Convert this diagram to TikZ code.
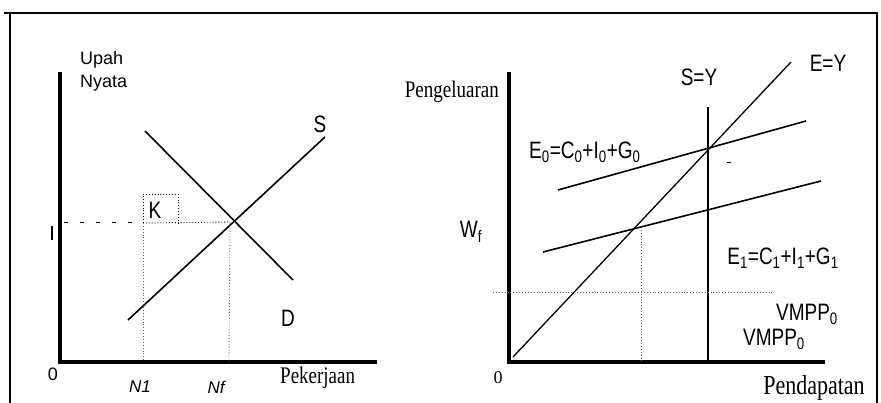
\documentclass[tikz,border=0pt]{standalone}
\usepackage{fontspec}
\setmainfont{Liberation Serif}
\setsansfont{Liberation Sans}
\usepackage{graphicx}
\usepackage{tikz}
\usetikzlibrary{positioning,calc}

\newcommand{\tall}[1]{\scalebox{1}[1.25]{#1}}

\begin{document}
\begin{tikzpicture}[x=1pt,y=-1pt,
  axis/.style={line width=3.5pt},
  curve/.style={line width=1.6pt},
  guide/.style={dotted,line width=0.9pt,black!60},
  lbl/.style={font=\fontsize{19}{19}\sffamily,inner sep=0pt},
  ttl/.style={font=\fontsize{19}{19}\rmfamily,inner sep=0pt}
]
\useasboundingbox (0,0) rectangle (881,403);
% ---- cadre ----
\draw[line width=1.4pt] (10,403) -- (10,13) -- (877,13) -- (877,403);
\draw[line width=1.4pt] (4,13) -- (10,13);

% ---- pasar tenaga kerja ----
\coordinate (O1) at (60,362);
\coordinate (E1pt) at (230,222);
\draw[axis] (60,72) -- (O1) -- (377,362);
\draw[line width=2pt] (52,226) -- (52,240);
\draw[curve] (128,320) -- (325,137);
\draw[curve] (145,131) -- (293,280);
\draw[dashed,dash pattern=on 4pt off 12pt,line width=1pt] (64,223) -- (143,223);
\draw[guide,black] (143,223) -- (E1pt);
\draw[guide] (143,223) -- (143,362);
\draw[guide] (E1pt) -- (229,362);
\draw[guide,black] (143,223) -- (143,194) -- (178,194) -- (178,223);
\node[lbl,font=\fontsize{18}{18}\sffamily,anchor=west] (upah) at (80,60) {Upah};
\node[lbl,font=\fontsize{18}{18}\sffamily,anchor=west] (nyata) at (80,83) {Nyata};
\node[lbl] (sup) at (320,124) {\tall{S}};
\node[lbl] (dem) at (288,318) {\tall{D}};
\node[lbl] (kk) at (155,210) {\tall{K}};
\node[lbl,font=\fontsize{18}{18}\sffamily] (nol1) at (53,374) {0};
\node[lbl,font=\fontsize{17}{17}\sffamily\itshape] (n1) at (140,387) {N1};
\node[lbl,font=\fontsize{17}{17}\sffamily\itshape] (nf) at (216,387) {Nf};
\node[ttl,anchor=west] (kerja) at (280,378) {\tall{Pekerjaan}};

% ---- pendapatan nasional ----
\coordinate (O2) at (509,362);
\draw[axis] (509,72) -- (O2) -- (825,362);
\draw[line width=1.3pt] (513,357) -- (791,62);
\draw[line width=1.4pt] (708,107) -- (708,362);
\draw[curve] (558,190) -- (806,121);
\draw[curve] (543,252) -- (821,181);
\draw[guide] (493,292) -- (773,292);
\draw[guide] (641,230) -- (641,362);
\draw[line width=1pt] (727,163) -- (731,163);
\node[ttl,anchor=east] (keluar) at (499,92) {\tall{Pengeluaran}};
\node[lbl] (sy) at (699,77) {\tall{S=Y}};
\node[lbl] (ey) at (828,63) {\tall{E=Y}};
\node[lbl,anchor=west] (e0) at (529,152) {\tall{E\textsubscript{0}=C\textsubscript{0}+I\textsubscript{0}+G\textsubscript{0}}};
\node[lbl] (e1) at (783,258) {\tall{E\textsubscript{1}=C\textsubscript{1}+I\textsubscript{1}+G\textsubscript{1}}};
\node[lbl] (wf) at (471,232) {\tall{W\textsubscript{f}}};
\node[lbl] (vm1) at (807,314) {\tall{VMPP\textsubscript{0}}};
\node[lbl] (vm2) at (774,339) {\tall{VMPP\textsubscript{0}}};
\node[ttl,font=\fontsize{18}{18}\rmfamily] (nol2) at (498,378) {0};
\node[ttl,font=\fontsize{22}{22}\rmfamily] (dapat) at (814,388) {\tall{Pendapatan}};
\end{tikzpicture}
\end{document}
